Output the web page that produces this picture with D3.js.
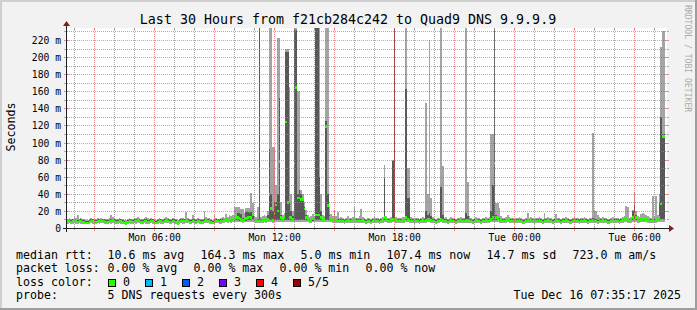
<!DOCTYPE html>
<html><head><meta charset="utf-8">
<script src="https://cdn.jsdelivr.net/npm/d3@7"></script>
<style>
html,body{margin:0;padding:0;background:#f2f2f2;}
svg{display:block;}
text{font-family:"DejaVu Sans Mono",monospace;fill:#000;}
</style></head><body>
<svg id="c" width="697" height="310"></svg>
<script>
// ---------------- DATA ----------------
const titleText = "Last 30 Hours from f21cb284c242 to Quad9 DNS 9.9.9.9";
const yAxisTitle = "Seconds";
const startTime = new Date(2025, 11, 15, 1, 37);
const endTime = new Date(2025, 11, 16, 7, 37);
const stepMinutes = 5;
const yTicks = [0, 20, 40, 60, 80, 100, 120, 140, 160, 180, 200, 220]; // ms
const yMinorTicks = [10, 30, 50, 70, 90, 110, 130, 150, 170, 190, 210, 230];

// median rtt (ms) per 5-minute step
const med = [
8,8,7,8,9,8,7,8,8,7, 7,6,6,7,8,8,7,7,8,8, 9,8,8,7,7,8,8,9,8,7, 7,8,8,7,6,5,7,8,8,7,
8,8,9,8,7,7,8,8,7,7, 8,8,7,6,7,8,8,7,8,9, 8,7,7,8,8,7,5,7,8,8, 8,9,8,7,7,8,8,7,8,8,
7,7,8,9,8,8,7,6,7,8, 8,7,8,8,9,10,9,10,9,10, 11,12,12,11,10,9,10,11,12,13, 12,15,11,9,8,9,8,9,10,9,
10,39,23,9,17,27,20,78,12,10, 12,124,30,12,12,10,76,164.3,35,35, 33,33,22,12,10,9,9,11,10,15, 15,15,12,10,10,118.5,26,12,10,9,
10,9,8,9,8,8,7,8,9,8, 8,9,10,8,8,9,8,9,8,7, 8,8,7,8,9,8,8,7,8,9, 12,10,8,8,9,10,10,9,8,8,
8,9,9,12,10,9,8,8,7,8, 8,7,8,9,8,9,10,10,9,8, 8,7,8,8,10,9,8,8,7,8, 9,8,8,7,8,8,9,8,8,9,
9,8,8,7,8,9,8,8,7,8, 8,9,8,9,10,12,76,12,10,9, 9,8,8,9,10,9,8,8,7,8, 8,9,8,7,7,8,9,8,9,8,
7,8,8,9,8,7,8,8,9,8, 8,7,8,9,8,8,7,8,8,9, 8,7,7,8,9,8,8,7,8,8, 9,8,7,8,8,9,8,8,7,8,
8,9,8,8,7,7,8,9,8,8, 8,7,8,9,10,11,9,8,9,12, 16,12,9,8,10,11,10,10,9,8, 8,9,8,9,10,12,28,107.4,107.4,null
];
// 5 sorted pings per step: p1 (lowest), p2, median, p4, p5 (highest)
const p1 = [
5,5.5,5,5,6,5,5,5.5,5,5, 5,4.5,4.5,5,5.5,5,5,5,5.5,5, 6,5.5,5,5,5,5.5,5,6,5,5, 5,5.5,5,5,4.5,4.5,5,5.5,5,5,
5.5,5,6,5.5,5,5,5.5,5,5,5, 5.5,5,5,4.5,5,5.5,5,5,5.5,6, 5.5,5,5,5.5,5,5,4.5,5,5.5,5, 5,6,5.5,5,5,5.5,5,5,5.5,5,
5,5,5.5,6,5.5,5,5,4.5,5,5.5, 5.5,5,5,5.5,6,6.5,6,6.5,6,6.5, 7,7,7,6.5,6.5,6,6.5,7,7,7, 7,7,6.5,6,5.5,6,5.5,6,6.5,6,
6.5,7,7,6,7,7,7,7,7,6.5, 7,7,7,7,7,6.5,7,7,7,7, 7,7,7,7,6.5,6,6,6.5,6.5,7, 7,7,7,6.5,6.5,7,7,7,6.5,6,
6,6,5.5,6,5.5,5.5,5,5.5,6,5.5, 5.5,6,6.5,5.5,5.5,6,5.5,6,5.5,5, 5.5,5.5,5,5.5,6,5.5,5.5,5,5.5,6, 7,6.5,5.5,5.5,6,6.5,6.5,6,5.5,5.5,
5.5,6,6,7,6.5,6,5.5,5.5,5,5.5, 5.5,5,5.5,6,5.5,6,6.5,6.5,6,5.5, 5.5,5,5.5,5.5,6.5,6,5.5,5.5,5,5.5, 6,5.5,5.5,5,5.5,5.5,6,5.5,5.5,6,
6,5.5,5.5,5,5.5,6,5.5,5.5,5,5.5, 5.5,6,5.5,6,6.5,7,7,7,6.5,6, 6,5.5,5.5,6,6.5,6,5.5,5.5,5,5.5, 5.5,6,5.5,5,5,5.5,6,5.5,6,5.5,
5,5.5,5.5,6,5.5,5,5.5,5.5,6,5.5, 5.5,5,5.5,6,5.5,5.5,5,5.5,5.5,6, 5.5,5,5,5.5,6,5.5,5.5,5,5.5,5.5, 6,5.5,5,5.5,5.5,6,5.5,5.5,5,5.5,
5.5,6,5.5,5.5,5,5,5.5,6,5.5,5.5, 5.5,5,5.5,6,6.5,7,6,5.5,6,7, 7,6.5,6,5.5,6.5,7,6.5,6.5,6,5.5, 5.5,6,5.5,6,6.5,7,7,7,7,null
];
const p2 = [
7,7,6,7,7,7,6,7,7,6, 6,5,5,6,7,7,6,6,7,7, 7,7,7,6,6,7,7,7,7,6, 6,7,7,6,5,5,6,7,7,6,
7,7,7,7,6,6,7,7,6,6, 7,7,6,5,6,7,7,6,7,7, 7,6,6,7,7,6,5,6,7,7, 7,7,7,6,6,7,7,6,7,7,
6,6,7,7,7,7,6,5,6,7, 7,6,7,7,7,8,7,8,7,8, 8,9,9,8,8,7,8,8,9,9, 9,10,8,7,7,7,7,7,8,7,
8,9,9,7,9,9,9,9,9,8, 9,9,9,9,9,8,9,9,9,9, 9,9,9,9,8,7,7,8,8,9, 9,9,9,8,8,9,9,9,8,7,
9,8,7,8,7,7,6,7,8,7, 7,8,9,7,7,8,7,8,7,6, 7,7,6,7,8,7,7,6,7,8, 9,9,7,7,8,8,8,8,7,7,
7,8,8,9,8,8,7,7,6,7, 7,6,7,8,7,8,8,8,8,7, 7,6,7,7,8,8,7,7,6,7, 8,7,7,6,7,7,8,7,7,8,
8,7,7,6,7,8,7,7,6,7, 7,8,7,8,8,9,9,9,8,8, 8,7,7,8,8,8,7,7,6,7, 7,8,7,6,6,7,8,7,8,7,
6,7,7,8,7,6,7,7,8,7, 7,6,7,8,7,7,6,7,7,8, 7,6,6,7,8,7,7,6,7,7, 8,7,6,7,7,8,7,7,6,7,
7,8,7,7,6,6,7,8,7,7, 7,6,7,8,8,9,8,7,8,9, 10,9,8,7,8,9,8,8,8,7, 7,8,7,8,8,9,10,10,10,null
];
const p4 = [
9,10,9,10,11,9,9,10,10,9, 9,8,8,9,10,10,9,9,10,10, 11,10,10,9,9,10,10,11,10,9, 9,10,10,9,8,7,9,10,10,9,
10,10,11,10,9,9,10,10,9,9, 10,10,9,8,9,10,10,9,10,11, 10,9,9,10,10,9,7,9,10,10, 10,11,10,9,9,10,10,9,10,10,
9,9,10,11,10,10,9,8,9,10, 10,9,10,10,11,12,11,12,11,12, 12,14,17,17,16,12,12,19,19,18, 19,16,13,11,10,300,10,11,12,11,
15,93,40,20,31,31,40,152,15,12, 14,206,206,30,20,14,300,232,40,44, 40,35,25,15,12,11,11,13,12,300, 300,60,20,12,12,125,40,15,12,11,
12,11,10,11,10,10,9,10,11,10, 10,11,12,10,10,11,10,11,10,9, 10,10,9,10,11,10,10,9,10,11, 58,12,10,10,11,78,300,11,10,10,
10,11,11,163,35,35,10,10,9,10, 10,9,10,11,10,20,15,18,14,10, 10,9,10,10,48,15,10,10,9,10, 11,10,10,9,10,10,11,10,10,17,
14,10,10,9,10,11,10,10,9,10, 10,11,10,11,20,50,300,15,12,12, 11,10,10,11,12,11,10,10,9,10, 10,11,10,9,9,10,11,10,11,10,
9,10,10,11,10,9,10,10,11,10, 10,9,10,11,10,10,9,10,10,11, 10,9,9,10,11,10,10,9,10,10, 11,10,9,10,10,12,11,10,9,10,
10,11,10,10,9,9,10,11,10,10, 10,9,10,11,12,13,11,10,11,20, 27,15,11,10,12,13,12,12,11,10, 10,11,10,11,12,30,130,110,110,null
];
const p5 = [
11,12,10,11,13,12,15,11,12,10, 10,9,9,11,12,11,10,10,12,11, 12,11,11,10,10,12,15,13,12,10, 10,12,11,10,9,9,10,12,11,10,
11,12,13,12,10,10,12,13,12,10, 12,11,10,9,10,12,11,10,12,13, 12,10,11,12,11,10,9,10,12,12, 11,19,12,10,10,15,11,10,12,11,
10,11,20,13,12,12,11,9,15,12, 11,10,12,13,12,16,13,15,14,15, 25,25,25,24,22,22,18,23,23,23, 41,29,14,13,25,300,13,14,15,14,
20,300,300,95,95,50,222,222,30,15, 18,210,210,165,40,20,300,300,160,160, 45,40,30,21,15,13,14,16,14,300, 300,300,40,15,14,300,300,25,16,14,
21,14,19,12,13,12,11,12,14,12, 12,13,25,12,12,14,22,13,12,11, 12,12,11,12,13,12,12,11,12,13, 74,14,12,12,13,80,300,13,12,12,
12,13,13,300,70,70,13,12,11,12, 12,11,12,13,12,146,40,220,35,13, 12,11,12,12,300,72,12,13,11,12, 13,12,12,11,12,12,13,12,12,300,
54,14,12,11,12,13,12,12,11,12, 12,13,12,13,110,110,300,29,29,23, 14,12,12,13,15,13,12,12,11,12, 12,13,12,11,11,12,18,12,13,12,
11,12,12,13,12,11,17,12,13,12, 12,11,12,16,12,12,11,12,12,13, 12,11,11,12,13,12,12,11,12,12, 13,12,11,12,12,111,21,20,15,13,
12,13,12,12,11,11,12,13,12,12, 12,11,12,13,14,26,25,12,13,21, 42,20,14,13,16,17,16,15,14,13, 12,37,14,37,15,40,212,230,230,null
];

const rttLabel = "median rtt:";
const rttStats = ["10.6 ms avg", "164.3 ms max", "5.0 ms min", "107.4 ms now", "14.7 ms sd", "723.0 m am/s"];
const lossLabel = "packet loss:";
const lossStats = ["0.00 % avg", "0.00 % max", "0.00 % min", "0.00 % now"];
const lossColorLabel = "loss color:";
const lossLabels = ["0", "1", "2", "3", "4", "5/5"];
const lossColors = ["#26ff00", "#00b8ff", "#0059ff", "#7e00ff", "#ff0000", "#a10000"];
const probeLabel = "probe:";
const probeText = "5 DNS requests every 300s";
const stampText = "Tue Dec 16 07:35:17 2025";
const watermark = "RRDTOOL / TOBI OETIKER";

// ---------------- DRAW ----------------
const W = 697, H = 310;
const X0 = 67, X1 = 667, Y0 = 228, Y1 = 28;
const yMax = 234;
const svg = d3.select("#c");
const x = d3.scaleTime().domain([startTime, endTime]).range([X0, X1]);
const y = d3.scaleLinear().domain([0, yMax]).range([Y0, Y1]);

// background + borders
svg.append("rect").attr("width", W).attr("height", H).attr("fill", "#f2f2f2");
svg.append("rect").attr("x", 0).attr("y", 0).attr("width", W).attr("height", 2).attr("fill", "#cfcfcf");
svg.append("rect").attr("x", 0).attr("y", 0).attr("width", 2).attr("height", H).attr("fill", "#cfcfcf");
svg.append("rect").attr("x", 0).attr("y", H - 2).attr("width", W).attr("height", 2).attr("fill", "#9e9e9e");
svg.append("rect").attr("x", W - 2).attr("y", 0).attr("width", 2).attr("height", H).attr("fill", "#9e9e9e");

// canvas
svg.append("rect").attr("x", X0).attr("y", Y1).attr("width", X1 - X0).attr("height", Y0 - Y1).attr("fill", "#fff");

const n = med.length;
const tAt = i => new Date(startTime.getTime() + i * stepMinutes * 60000);
const px = i => Math.round(x(tAt(i)));
const py = v => Math.round(y(Math.max(0, Math.min(v, yMax))));

function band(lo, hi, color) {
  const idx = d3.range(n).filter(i => lo[i] != null && hi[i] != null);
  svg.append("g").attr("shape-rendering", "crispEdges")
    .selectAll("rect").data(idx).join("rect")
    .attr("x", i => px(i)).attr("width", i => px(i + 1) - px(i))
    .attr("y", i => py(hi[i])).attr("height", i => Math.max(0, py(lo[i]) - py(hi[i])))
    .attr("fill", color);
}
band(p1, p5, "#a4a4a4");
band(p2, p4, "#585858");
// median, coloured by loss (0 loss everywhere)
const sw = yMax / (Y0 - Y1) * 1.3;
band(med.map(v => v == null ? null : v - sw), med.map(v => v == null ? null : v + sw), lossColors[0]);

// grid (on top)
const gMinor = "rgba(143,143,143,0.75)", gMajor = "rgba(222,79,79,0.6)";
const grid = svg.append("g").attr("shape-rendering", "crispEdges");
function line(x1, y1, x2, y2, col, dash) {
  const l = grid.append("line").attr("x1", x1).attr("y1", y1).attr("x2", x2).attr("y2", y2)
    .attr("stroke", col).attr("stroke-width", 1);
  if (dash) l.attr("stroke-dasharray", dash);
}
const hours = x.ticks(d3.timeHour.every(1));
hours.forEach(d => {
  const major = d.getHours() % 3 === 0;
  const xx = Math.floor(x(d)) + 0.5;
  const col = major ? gMajor : gMinor;
  line(xx, Y1, xx, Y0, col, "1,1");
  line(xx, Y0 - 2, xx, Y0 + (major ? 3 : 2), col);
  line(xx, Y1, xx, Y1 + 2, col);
});
yMinorTicks.filter(v => v < yMax).forEach(v => {
  const yy = Math.round(y(v)) + 0.5;
  line(X0, yy, X1, yy, gMinor, "1,1");
  line(X0 - 3, yy, X0, yy, gMinor);
  line(X1, yy, X1 + 2, yy, gMinor);
});
yTicks.filter(v => v > 0).forEach(v => {
  const yy = Math.round(y(v)) + 0.5;
  line(X0, yy, X1, yy, gMajor, "1,1");
  line(X0 - 3, yy, X0 + 2, yy, gMajor);
  line(X1 - 2, yy, X1 + 2, yy, gMajor);
});

// axes
const axisCol = "#1f1f1f", arrowCol = "#801f1f";
grid.append("line").attr("x1", X0 - 4).attr("x2", X1 + 4).attr("y1", Y0 + 0.5).attr("y2", Y0 + 0.5).attr("stroke", axisCol);
grid.append("line").attr("x1", X0 - 0.5).attr("x2", X0 - 0.5).attr("y1", Y0 + 4).attr("y2", Y1 - 3).attr("stroke", axisCol);
svg.append("path").attr("d", `M${X1 + 2},${Y0 + 0.5 - 3.5}L${X1 + 7},${Y0 + 0.5}L${X1 + 2},${Y0 + 0.5 + 3.5}Z`).attr("fill", arrowCol);
svg.append("path").attr("d", `M${X0 - 0.5 - 3.5},${Y1 - 2}L${X0 - 0.5},${Y1 - 7}L${X0 - 0.5 + 3.5},${Y1 - 2}Z`).attr("fill", arrowCol);

// y labels
svg.append("g").selectAll("text").data(yTicks).join("text")
  .attr("x", 61).attr("y", v => Math.round(y(v)) + 4)
  .attr("text-anchor", "end").style("font-size", "9.7px")
  .text(v => v === 0 ? "0" : v + " m");
// x labels
svg.append("g").selectAll("text").data(hours.filter(d => d.getHours() % 6 === 0)).join("text")
  .attr("x", d => x(d)).attr("y", 241).attr("text-anchor", "middle").style("font-size", "9.7px")
  .text(d3.timeFormat("%a %H:%M"));

// title, axis title, watermark
svg.append("text").attr("x", 348).attr("y", 23.5).attr("text-anchor", "middle").style("font-size", "13.3px").text(titleText);
svg.append("text").attr("transform", "translate(14.5,127) rotate(-90)").attr("text-anchor", "middle").style("font-size", "11.6px").text(yAxisTitle);
svg.append("text").attr("transform", "translate(685,5) rotate(90)").attr("text-anchor", "start").style("font-size", "8.1px").style("fill", "#ababab").text(watermark);

// legend
const LF = "11.6px";
function t(xp, yp, s, anchor) {
  svg.append("text").attr("x", xp).attr("y", yp).attr("text-anchor", anchor || "start")
    .style("font-size", LF).attr("xml:space", "preserve").text(s);
}
const L1 = 258.5, L2 = 272, L3 = 285.8, L4 = 299.4;
t(16, L1, rttLabel);
[107.5, 200.5, 300.5, 386.5, 486.5, 572.5].forEach((xp, k) => t(xp, L1, rttStats[k]));
t(16, L2, lossLabel);
[107.5, 193.5, 279.5, 365.5].forEach((xp, k) => t(xp, L2, lossStats[k]));
t(16, L3, lossColorLabel);
lossLabels.forEach((lab, k) => {
  const bx = 108 + k * 37;
  svg.append("rect").attr("x", bx + 0.5).attr("y", 279.5).attr("width", 7).attr("height", 7)
    .attr("fill", lossColors[k]).attr("stroke", "#000").attr("stroke-width", 1);
  t(bx + 15, L3, lab);
});
t(16, L4, probeLabel);
t(107.5, L4, probeText);
t(681, L4, stampText, "end");
</script>
</body></html>
